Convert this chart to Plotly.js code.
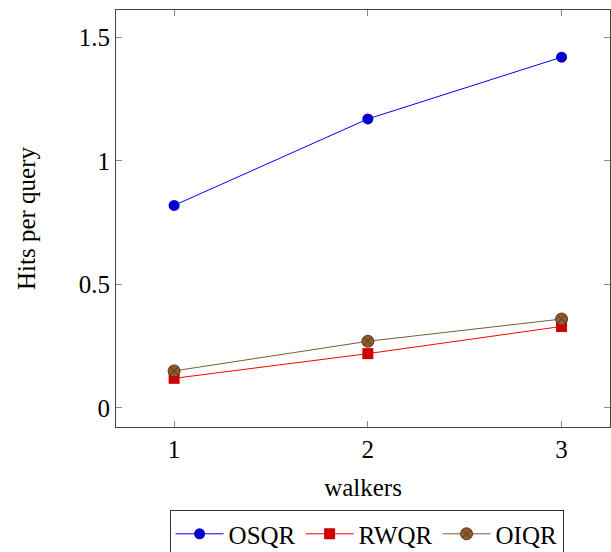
<!DOCTYPE html>
<html><head><meta charset="utf-8">
<script src="https://cdn.plot.ly/plotly-3.0.1.min.js"></script>
<style>html,body{margin:0;padding:0;background:#fff}</style>
</head><body>
<div id="chart" style="width:611px;height:552px"></div>
<script>
const walkers = [1, 2, 3];
const osqr = [0.82, 1.17, 1.42];
const rwqr = [0.12, 0.22, 0.33];
const oiqr = [0.15, 0.27, 0.36];
const tickVals = [1, 2, 3];
const yTickVals = [0, 0.5, 1, 1.5];
const yTickText = ['0', '0.5', '1', '1.5'];

const font = 'Liberation Serif, Times New Roman, serif';
const traces = [
  {x: walkers, y: osqr, name: 'OSQR', mode: 'lines+markers',
   line: {color: '#0000ff', width: 1},
   marker: {symbol: 'circle', size: 11, color: '#0000cc', line: {color: '#0000cc', width: 0}}},
  {x: walkers, y: rwqr, name: 'RWQR', mode: 'lines+markers',
   line: {color: '#ff0000', width: 1},
   marker: {symbol: 'square', size: 11, color: '#cc0000', line: {color: '#cc0000', width: 0}}},
  {x: walkers, y: oiqr, name: 'OIQR', mode: 'lines+markers',
   line: {color: '#7f5a33', width: 1},
   marker: {symbol: 'circle-x', size: 12, color: '#8c5c2c', line: {color: '#5a3a1a', width: 1}}}
];
const layout = {
  width: 611, height: 552,
  margin: {l: 116, r: 1, t: 10, b: 125, autoexpand: false},
  paper_bgcolor: '#fff', plot_bgcolor: '#fff',
  font: {family: font, size: 25, color: '#000'},
  showlegend: true,
  legend: {orientation: 'h', xref: 'container', x: 0.6, xanchor: 'center',
           yref: 'container', y: 0.076, yanchor: 'top',
           bordercolor: '#333', borderwidth: 1, font: {family: font, size: 25},
           itemwidth: 48, tracegroupgap: 0},
  xaxis: {range: [0.7, 3.25], tickvals: tickVals, ticktext: tickVals.map(String),
          ticks: 'inside', ticklen: 6, tickcolor: '#888', tickwidth: 1,
          showline: true, linecolor: '#444', linewidth: 1, mirror: 'ticks',
          showgrid: false, zeroline: false, automargin: false,
          title: {text: 'walkers', font: {family: font, size: 25}, standoff: 16}},
  yaxis: {range: [-0.077, 1.611], tickvals: yTickVals, ticktext: yTickText,
          ticks: 'inside', ticklen: 6, tickcolor: '#888', tickwidth: 1,
          showline: true, linecolor: '#444', linewidth: 1, mirror: 'ticks',
          showgrid: false, zeroline: false, automargin: false,
          title: {text: 'Hits per query', font: {family: font, size: 25}, standoff: 36}}
};
Plotly.newPlot('chart', traces, layout, {displayModeBar: false, staticPlot: true});
</script>
</body></html>
